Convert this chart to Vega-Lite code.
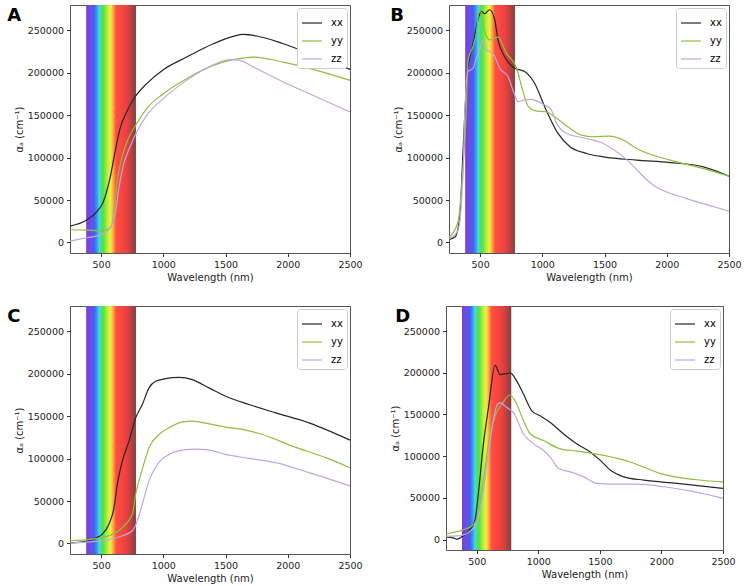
{
  "$schema": "https://vega.github.io/schema/vega-lite/v6.json",
  "padding": {"left": 6, "top": 4, "right": 0, "bottom": 0},
  "config": {
    "font": "DejaVu Sans",
    "view": {"stroke": "#555555", "strokeWidth": 1},
    "axis": {"grid": false, "domain": false, "labelFlush": false, "labelOverlap": false, "tickColor": "#333333", "tickSize": 3.5, "labelFontSize": 9.5, "labelColor": "#222222", "labelPadding": 3, "titleFontSize": 10, "titleFontWeight": "normal", "titleColor": "#222222", "titlePadding": 3, "labelFont": "DejaVu Sans", "titleFont": "DejaVu Sans"},
    "legend": {"orient": "top-right", "offset": 3, "padding": 4, "strokeColor": "#cccccc", "fillColor": "white", "cornerRadius": 3, "symbolType": "stroke", "symbolSize": 400, "symbolStrokeWidth": 1.5, "labelFontSize": 10, "labelFont": "DejaVu Sans", "rowPadding": 2, "labelOffset": 8},
    "title": {"anchor": "start", "frame": "bounds", "fontSize": 18, "fontWeight": "bold", "font": "DejaVu Sans", "color": "#000000", "offset": -20},
    "line": {"interpolate": "monotone", "strokeWidth": 1.2, "clip": true}
  },
  "datasets": {
    "band": [{"lo": 380, "hi": 780}],
    "A": [
      {"s": "xx", "w": 250, "v": 19200}, {"s": "xx", "w": 384, "v": 26300}, {"s": "xx", "w": 464, "v": 36100}, {"s": "xx", "w": 518, "v": 47900}, {"s": "xx", "w": 571, "v": 75400}, {"s": "xx", "w": 612, "v": 106800}, {"s": "xx", "w": 652, "v": 134200}, {"s": "xx", "w": 705, "v": 153900}, {"s": "xx", "w": 772, "v": 171500}, {"s": "xx", "w": 866, "v": 187200}, {"s": "xx", "w": 1000, "v": 203700}, {"s": "xx", "w": 1187, "v": 218600}, {"s": "xx", "w": 1402, "v": 234300}, {"s": "xx", "w": 1562, "v": 243000}, {"s": "xx", "w": 1643, "v": 245300}, {"s": "xx", "w": 1750, "v": 243400}, {"s": "xx", "w": 1964, "v": 234300}, {"s": "xx", "w": 2232, "v": 219400}, {"s": "xx", "w": 2500, "v": 204100},
      {"s": "yy", "w": 250, "v": 14900}, {"s": "yy", "w": 384, "v": 14500}, {"s": "yy", "w": 491, "v": 13700}, {"s": "yy", "w": 545, "v": 14500}, {"s": "yy", "w": 585, "v": 20400}, {"s": "yy", "w": 604, "v": 36100}, {"s": "yy", "w": 625, "v": 67500}, {"s": "yy", "w": 665, "v": 98900}, {"s": "yy", "w": 719, "v": 122500}, {"s": "yy", "w": 786, "v": 140100}, {"s": "yy", "w": 866, "v": 157800}, {"s": "yy", "w": 1000, "v": 175400}, {"s": "yy", "w": 1187, "v": 193100}, {"s": "yy", "w": 1402, "v": 208800}, {"s": "yy", "w": 1562, "v": 215500}, {"s": "yy", "w": 1723, "v": 218600}, {"s": "yy", "w": 1964, "v": 212700}, {"s": "yy", "w": 2232, "v": 202900}, {"s": "yy", "w": 2500, "v": 191100},
      {"s": "zz", "w": 250, "v": 1600}, {"s": "zz", "w": 384, "v": 5500}, {"s": "zz", "w": 491, "v": 8600}, {"s": "zz", "w": 558, "v": 14500}, {"s": "zz", "w": 598, "v": 24300}, {"s": "zz", "w": 620, "v": 40000}, {"s": "zz", "w": 638, "v": 59700}, {"s": "zz", "w": 679, "v": 91100}, {"s": "zz", "w": 732, "v": 112600}, {"s": "zz", "w": 786, "v": 130300}, {"s": "zz", "w": 866, "v": 149900}, {"s": "zz", "w": 1000, "v": 169600}, {"s": "zz", "w": 1187, "v": 191100}, {"s": "zz", "w": 1402, "v": 209600}, {"s": "zz", "w": 1536, "v": 215500}, {"s": "zz", "w": 1616, "v": 214700}, {"s": "zz", "w": 1723, "v": 206800}, {"s": "zz", "w": 1964, "v": 189200}, {"s": "zz", "w": 2232, "v": 171500}, {"s": "zz", "w": 2500, "v": 153900}
    ],
    "B": [
      {"s": "xx", "w": 250, "v": 3500}, {"s": "xx", "w": 298, "v": 6300}, {"s": "xx", "w": 336, "v": 30000}, {"s": "xx", "w": 363, "v": 108800}, {"s": "xx", "w": 376, "v": 148300}, {"s": "xx", "w": 403, "v": 207400}, {"s": "xx", "w": 429, "v": 225100}, {"s": "xx", "w": 456, "v": 242900}, {"s": "xx", "w": 483, "v": 262600}, {"s": "xx", "w": 510, "v": 272500}, {"s": "xx", "w": 537, "v": 269700}, {"s": "xx", "w": 577, "v": 274400}, {"s": "xx", "w": 617, "v": 262600}, {"s": "xx", "w": 644, "v": 238900}, {"s": "xx", "w": 697, "v": 219200}, {"s": "xx", "w": 778, "v": 205400}, {"s": "xx", "w": 858, "v": 201500}, {"s": "xx", "w": 938, "v": 187700}, {"s": "xx", "w": 1019, "v": 160100}, {"s": "xx", "w": 1126, "v": 128500}, {"s": "xx", "w": 1222, "v": 112800}, {"s": "xx", "w": 1356, "v": 104900}, {"s": "xx", "w": 1490, "v": 100900}, {"s": "xx", "w": 1758, "v": 97000}, {"s": "xx", "w": 2026, "v": 94200}, {"s": "xx", "w": 2294, "v": 89100}, {"s": "xx", "w": 2500, "v": 78100},
      {"s": "yy", "w": 250, "v": 6300}, {"s": "yy", "w": 322, "v": 24100}, {"s": "yy", "w": 363, "v": 89100}, {"s": "yy", "w": 389, "v": 156100}, {"s": "yy", "w": 403, "v": 215300}, {"s": "yy", "w": 443, "v": 231100}, {"s": "yy", "w": 470, "v": 246800}, {"s": "yy", "w": 496, "v": 276400}, {"s": "yy", "w": 537, "v": 248800}, {"s": "yy", "w": 577, "v": 238900}, {"s": "yy", "w": 644, "v": 242100}, {"s": "yy", "w": 711, "v": 223200}, {"s": "yy", "w": 794, "v": 205400}, {"s": "yy", "w": 834, "v": 183700}, {"s": "yy", "w": 888, "v": 160100}, {"s": "yy", "w": 941, "v": 155400}, {"s": "yy", "w": 1035, "v": 153800}, {"s": "yy", "w": 1115, "v": 146300}, {"s": "yy", "w": 1222, "v": 134500}, {"s": "yy", "w": 1316, "v": 126600}, {"s": "yy", "w": 1410, "v": 124600}, {"s": "yy", "w": 1544, "v": 125400}, {"s": "yy", "w": 1651, "v": 120700}, {"s": "yy", "w": 1758, "v": 110800}, {"s": "yy", "w": 2026, "v": 97000}, {"s": "yy", "w": 2294, "v": 87100}, {"s": "yy", "w": 2500, "v": 78100},
      {"s": "zz", "w": 250, "v": 4300}, {"s": "zz", "w": 322, "v": 14200}, {"s": "zz", "w": 363, "v": 81200}, {"s": "zz", "w": 376, "v": 150200}, {"s": "zz", "w": 403, "v": 201500}, {"s": "zz", "w": 443, "v": 205400}, {"s": "zz", "w": 470, "v": 217300}, {"s": "zz", "w": 496, "v": 227100}, {"s": "zz", "w": 523, "v": 238200}, {"s": "zz", "w": 550, "v": 227100}, {"s": "zz", "w": 577, "v": 225100}, {"s": "zz", "w": 617, "v": 219200}, {"s": "zz", "w": 657, "v": 205400}, {"s": "zz", "w": 724, "v": 195600}, {"s": "zz", "w": 778, "v": 173900}, {"s": "zz", "w": 804, "v": 166000}, {"s": "zz", "w": 858, "v": 168000}, {"s": "zz", "w": 912, "v": 168800}, {"s": "zz", "w": 992, "v": 164000}, {"s": "zz", "w": 1072, "v": 156100}, {"s": "zz", "w": 1115, "v": 140400}, {"s": "zz", "w": 1196, "v": 128500}, {"s": "zz", "w": 1356, "v": 122600}, {"s": "zz", "w": 1490, "v": 116700}, {"s": "zz", "w": 1651, "v": 100900}, {"s": "zz", "w": 1892, "v": 67400}, {"s": "zz", "w": 2160, "v": 51600}, {"s": "zz", "w": 2294, "v": 45700}, {"s": "zz", "w": 2500, "v": 36700}
    ],
    "C": [
      {"s": "xx", "w": 250, "v": 500}, {"s": "xx", "w": 376, "v": 2400}, {"s": "xx", "w": 456, "v": 6300}, {"s": "xx", "w": 510, "v": 11000}, {"s": "xx", "w": 563, "v": 22700}, {"s": "xx", "w": 604, "v": 42300}, {"s": "xx", "w": 630, "v": 69700}, {"s": "xx", "w": 671, "v": 97200}, {"s": "xx", "w": 724, "v": 120700}, {"s": "xx", "w": 778, "v": 148100}, {"s": "xx", "w": 831, "v": 163800}, {"s": "xx", "w": 885, "v": 183400}, {"s": "xx", "w": 938, "v": 191200}, {"s": "xx", "w": 1019, "v": 194300}, {"s": "xx", "w": 1126, "v": 195900}, {"s": "xx", "w": 1233, "v": 193200}, {"s": "xx", "w": 1367, "v": 183400}, {"s": "xx", "w": 1501, "v": 173600}, {"s": "xx", "w": 1688, "v": 163800}, {"s": "xx", "w": 1903, "v": 154000}, {"s": "xx", "w": 2171, "v": 142200}, {"s": "xx", "w": 2500, "v": 121800},
      {"s": "yy", "w": 250, "v": 3100}, {"s": "yy", "w": 429, "v": 5100}, {"s": "yy", "w": 563, "v": 9000}, {"s": "yy", "w": 671, "v": 18800}, {"s": "yy", "w": 751, "v": 34500}, {"s": "yy", "w": 778, "v": 58000}, {"s": "yy", "w": 831, "v": 87400}, {"s": "yy", "w": 885, "v": 112800}, {"s": "yy", "w": 965, "v": 128500}, {"s": "yy", "w": 1046, "v": 136300}, {"s": "yy", "w": 1153, "v": 143400}, {"s": "yy", "w": 1233, "v": 144200}, {"s": "yy", "w": 1367, "v": 141000}, {"s": "yy", "w": 1501, "v": 137100}, {"s": "yy", "w": 1635, "v": 134400}, {"s": "yy", "w": 1796, "v": 128500}, {"s": "yy", "w": 2037, "v": 114800}, {"s": "yy", "w": 2305, "v": 101100}, {"s": "yy", "w": 2500, "v": 89300},
      {"s": "zz", "w": 250, "v": 500}, {"s": "zz", "w": 429, "v": 2000}, {"s": "zz", "w": 563, "v": 4300}, {"s": "zz", "w": 671, "v": 9000}, {"s": "zz", "w": 751, "v": 14900}, {"s": "zz", "w": 791, "v": 26600}, {"s": "zz", "w": 831, "v": 46200}, {"s": "zz", "w": 885, "v": 73700}, {"s": "zz", "w": 952, "v": 93200}, {"s": "zz", "w": 1046, "v": 105000}, {"s": "zz", "w": 1153, "v": 110100}, {"s": "zz", "w": 1260, "v": 111300}, {"s": "zz", "w": 1367, "v": 110100}, {"s": "zz", "w": 1501, "v": 105000}, {"s": "zz", "w": 1688, "v": 100300}, {"s": "zz", "w": 1903, "v": 95200}, {"s": "zz", "w": 2171, "v": 83500}, {"s": "zz", "w": 2500, "v": 67800}
    ],
    "D": [
      {"s": "xx", "w": 250, "v": 3200}, {"s": "xx", "w": 310, "v": 2000}, {"s": "xx", "w": 337, "v": 300}, {"s": "xx", "w": 391, "v": 4700}, {"s": "xx", "w": 445, "v": 11900}, {"s": "xx", "w": 486, "v": 23700}, {"s": "xx", "w": 513, "v": 55400}, {"s": "xx", "w": 554, "v": 114700}, {"s": "xx", "w": 595, "v": 158200}, {"s": "xx", "w": 649, "v": 208900}, {"s": "xx", "w": 690, "v": 197800}, {"s": "xx", "w": 730, "v": 198600}, {"s": "xx", "w": 771, "v": 199800}, {"s": "xx", "w": 825, "v": 189900}, {"s": "xx", "w": 880, "v": 174100}, {"s": "xx", "w": 947, "v": 154300}, {"s": "xx", "w": 1015, "v": 148300}, {"s": "xx", "w": 1097, "v": 140400}, {"s": "xx", "w": 1205, "v": 126600}, {"s": "xx", "w": 1314, "v": 114700}, {"s": "xx", "w": 1423, "v": 104800}, {"s": "xx", "w": 1504, "v": 94900}, {"s": "xx", "w": 1586, "v": 83100}, {"s": "xx", "w": 1694, "v": 75200}, {"s": "xx", "w": 1857, "v": 71200}, {"s": "xx", "w": 2128, "v": 67300}, {"s": "xx", "w": 2500, "v": 61300},
      {"s": "yy", "w": 250, "v": 6700}, {"s": "yy", "w": 391, "v": 11900}, {"s": "yy", "w": 473, "v": 17800}, {"s": "yy", "w": 513, "v": 31600}, {"s": "yy", "w": 554, "v": 71200}, {"s": "yy", "w": 608, "v": 126600}, {"s": "yy", "w": 649, "v": 148300}, {"s": "yy", "w": 703, "v": 162200}, {"s": "yy", "w": 771, "v": 173300}, {"s": "yy", "w": 812, "v": 166100}, {"s": "yy", "w": 880, "v": 142400}, {"s": "yy", "w": 934, "v": 126600}, {"s": "yy", "w": 1043, "v": 118700}, {"s": "yy", "w": 1178, "v": 108800}, {"s": "yy", "w": 1314, "v": 106000}, {"s": "yy", "w": 1531, "v": 100900}, {"s": "yy", "w": 1748, "v": 93000}, {"s": "yy", "w": 1993, "v": 79100}, {"s": "yy", "w": 2264, "v": 72000}, {"s": "yy", "w": 2500, "v": 69200},
      {"s": "zz", "w": 250, "v": 4000}, {"s": "zz", "w": 364, "v": 4700}, {"s": "zz", "w": 445, "v": 9900}, {"s": "zz", "w": 500, "v": 19800}, {"s": "zz", "w": 554, "v": 59300}, {"s": "zz", "w": 608, "v": 118700}, {"s": "zz", "w": 662, "v": 160200}, {"s": "zz", "w": 690, "v": 164200}, {"s": "zz", "w": 744, "v": 158200}, {"s": "zz", "w": 798, "v": 152300}, {"s": "zz", "w": 880, "v": 126600}, {"s": "zz", "w": 961, "v": 114700}, {"s": "zz", "w": 1043, "v": 106800}, {"s": "zz", "w": 1097, "v": 98900}, {"s": "zz", "w": 1165, "v": 85100}, {"s": "zz", "w": 1260, "v": 81100}, {"s": "zz", "w": 1369, "v": 75200}, {"s": "zz", "w": 1477, "v": 67300}, {"s": "zz", "w": 1586, "v": 66500}, {"s": "zz", "w": 1803, "v": 66500}, {"s": "zz", "w": 2020, "v": 63300}, {"s": "zz", "w": 2264, "v": 57400}, {"s": "zz", "w": 2500, "v": 49400}
    ]
  },
  "resolve": {"scale": {"color": "independent"}, "legend": {"color": "independent"}},
  "columns": 2,
  "align": "none",
  "spacing": {"row": 22, "column": 26},
  "concat": [
    {
      "title": {"text": "A", "dx": -7},
      "width": 280, "height": 248,
      "layer": [
        {"data": {"name": "band"}, "mark": {"type": "rect", "color": {"gradient": "linear", "x1": 0, "x2": 1, "y1": 0, "y2": 0, "stops": [{"offset": 0, "color": "#7a3fd0"}, {"offset": 0.1, "color": "#6a4fe8"}, {"offset": 0.1625, "color": "#4060f0"}, {"offset": 0.225, "color": "#40a0f0"}, {"offset": 0.2625, "color": "#40e0e0"}, {"offset": 0.3, "color": "#40e080"}, {"offset": 0.35, "color": "#60e040"}, {"offset": 0.425, "color": "#b0f040"}, {"offset": 0.4875, "color": "#f0f040"}, {"offset": 0.5375, "color": "#ffb040"}, {"offset": 0.6, "color": "#ff5040"}, {"offset": 0.8, "color": "#f04040"}, {"offset": 0.9, "color": "#c04040"}, {"offset": 1, "color": "#804040"}]}},
         "encoding": {"x": {"field": "lo", "type": "quantitative", "scale": {"domain": [250, 2500], "nice": false, "zero": false}, "axis": {"title": "Wavelength (nm)", "values": [500, 1000, 1500, 2000, 2500], "format": "d"}}, "x2": {"field": "hi"}}},
        {"data": {"name": "A"}, "mark": "line",
         "encoding": {"x": {"field": "w", "type": "quantitative", "scale": {"domain": [250, 2500], "nice": false, "zero": false}}, "y": {"field": "v", "type": "quantitative", "scale": {"domain": [-12500, 280000], "nice": false, "zero": false}, "axis": {"title": "αₐ (cm⁻¹)", "values": [0, 50000, 100000, 150000, 200000, 250000], "format": "d"}}, "color": {"field": "s", "type": "nominal", "scale": {"domain": ["xx", "yy", "zz"], "range": ["#262626", "#8cbf3f", "#c3a6dd"]}, "legend": {"title": null}}}}
      ]
    },
    {
      "title": {"text": "B", "dx": -3},
      "width": 280, "height": 248,
      "layer": [
        {"data": {"name": "band"}, "mark": {"type": "rect", "color": {"gradient": "linear", "x1": 0, "x2": 1, "y1": 0, "y2": 0, "stops": [{"offset": 0, "color": "#7a3fd0"}, {"offset": 0.1, "color": "#6a4fe8"}, {"offset": 0.1625, "color": "#4060f0"}, {"offset": 0.225, "color": "#40a0f0"}, {"offset": 0.2625, "color": "#40e0e0"}, {"offset": 0.3, "color": "#40e080"}, {"offset": 0.35, "color": "#60e040"}, {"offset": 0.425, "color": "#b0f040"}, {"offset": 0.4875, "color": "#f0f040"}, {"offset": 0.5375, "color": "#ffb040"}, {"offset": 0.6, "color": "#ff5040"}, {"offset": 0.8, "color": "#f04040"}, {"offset": 0.9, "color": "#c04040"}, {"offset": 1, "color": "#804040"}]}},
         "encoding": {"x": {"field": "lo", "type": "quantitative", "scale": {"domain": [250, 2500], "nice": false, "zero": false}, "axis": {"title": "Wavelength (nm)", "values": [500, 1000, 1500, 2000, 2500], "format": "d"}}, "x2": {"field": "hi"}}},
        {"data": {"name": "B"}, "mark": "line",
         "encoding": {"x": {"field": "w", "type": "quantitative", "scale": {"domain": [250, 2500], "nice": false, "zero": false}}, "y": {"field": "v", "type": "quantitative", "scale": {"domain": [-12500, 280000], "nice": false, "zero": false}, "axis": {"title": "αₐ (cm⁻¹)", "values": [0, 50000, 100000, 150000, 200000, 250000], "format": "d"}}, "color": {"field": "s", "type": "nominal", "scale": {"domain": ["xx", "yy", "zz"], "range": ["#262626", "#8cbf3f", "#c3a6dd"]}, "legend": {"title": null}}}}
      ]
    },
    {
      "title": {"text": "C", "dx": -7},
      "width": 280, "height": 248,
      "layer": [
        {"data": {"name": "band"}, "mark": {"type": "rect", "color": {"gradient": "linear", "x1": 0, "x2": 1, "y1": 0, "y2": 0, "stops": [{"offset": 0, "color": "#7a3fd0"}, {"offset": 0.1, "color": "#6a4fe8"}, {"offset": 0.1625, "color": "#4060f0"}, {"offset": 0.225, "color": "#40a0f0"}, {"offset": 0.2625, "color": "#40e0e0"}, {"offset": 0.3, "color": "#40e080"}, {"offset": 0.35, "color": "#60e040"}, {"offset": 0.425, "color": "#b0f040"}, {"offset": 0.4875, "color": "#f0f040"}, {"offset": 0.5375, "color": "#ffb040"}, {"offset": 0.6, "color": "#ff5040"}, {"offset": 0.8, "color": "#f04040"}, {"offset": 0.9, "color": "#c04040"}, {"offset": 1, "color": "#804040"}]}},
         "encoding": {"x": {"field": "lo", "type": "quantitative", "scale": {"domain": [250, 2500], "nice": false, "zero": false}, "axis": {"title": "Wavelength (nm)", "values": [500, 1000, 1500, 2000, 2500], "format": "d"}}, "x2": {"field": "hi"}}},
        {"data": {"name": "C"}, "mark": "line",
         "encoding": {"x": {"field": "w", "type": "quantitative", "scale": {"domain": [250, 2500], "nice": false, "zero": false}}, "y": {"field": "v", "type": "quantitative", "scale": {"domain": [-12500, 280000], "nice": false, "zero": false}, "axis": {"title": "αₐ (cm⁻¹)", "values": [0, 50000, 100000, 150000, 200000, 250000], "format": "d"}}, "color": {"field": "s", "type": "nominal", "scale": {"domain": ["xx", "yy", "zz"], "range": ["#262626", "#8cbf3f", "#c3a6dd"]}, "legend": {"title": null}}}}
      ]
    },
    {
      "title": {"text": "D", "dx": 5},
      "width": 277, "height": 244,
      "layer": [
        {"data": {"name": "band"}, "mark": {"type": "rect", "color": {"gradient": "linear", "x1": 0, "x2": 1, "y1": 0, "y2": 0, "stops": [{"offset": 0, "color": "#7a3fd0"}, {"offset": 0.1, "color": "#6a4fe8"}, {"offset": 0.1625, "color": "#4060f0"}, {"offset": 0.225, "color": "#40a0f0"}, {"offset": 0.2625, "color": "#40e0e0"}, {"offset": 0.3, "color": "#40e080"}, {"offset": 0.35, "color": "#60e040"}, {"offset": 0.425, "color": "#b0f040"}, {"offset": 0.4875, "color": "#f0f040"}, {"offset": 0.5375, "color": "#ffb040"}, {"offset": 0.6, "color": "#ff5040"}, {"offset": 0.8, "color": "#f04040"}, {"offset": 0.9, "color": "#c04040"}, {"offset": 1, "color": "#804040"}]}},
         "encoding": {"x": {"field": "lo", "type": "quantitative", "scale": {"domain": [250, 2500], "nice": false, "zero": false}, "axis": {"title": "Wavelength (nm)", "values": [500, 1000, 1500, 2000, 2500], "format": "d"}}, "x2": {"field": "hi"}}},
        {"data": {"name": "D"}, "mark": "line",
         "encoding": {"x": {"field": "w", "type": "quantitative", "scale": {"domain": [250, 2500], "nice": false, "zero": false}}, "y": {"field": "v", "type": "quantitative", "scale": {"domain": [-12500, 280000], "nice": false, "zero": false}, "axis": {"title": "αₐ (cm⁻¹)", "values": [0, 50000, 100000, 150000, 200000, 250000], "format": "d"}}, "color": {"field": "s", "type": "nominal", "scale": {"domain": ["xx", "yy", "zz"], "range": ["#262626", "#8cbf3f", "#c3a6dd"]}, "legend": {"title": null}}}}
      ]
    }
  ]
}
